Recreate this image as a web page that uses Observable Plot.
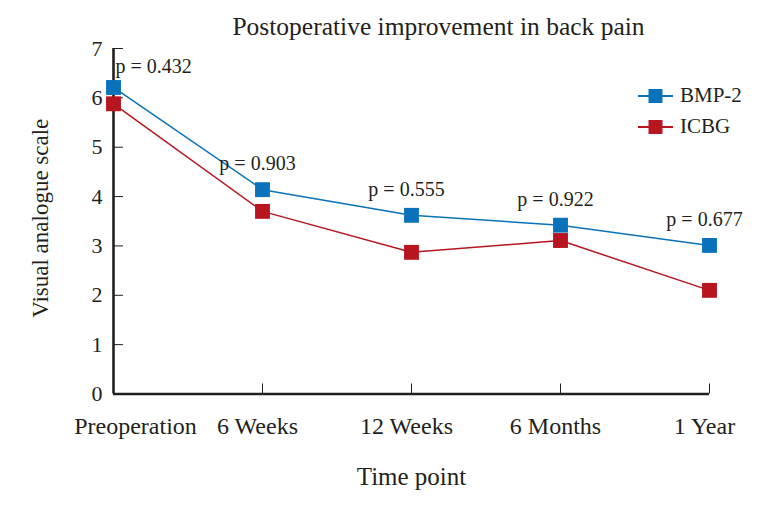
<!DOCTYPE html>
<html>
<head>
<meta charset="utf-8">
<script src="https://cdn.jsdelivr.net/npm/d3@7"></script>
<script src="https://cdn.jsdelivr.net/npm/@observablehq/plot@0.6"></script>
<style>
  html, body { margin: 0; padding: 0; background: #fff; }
  #wrap { position: relative; width: 772px; height: 508px; font-family: "Liberation Serif", serif; color: #231f20; }
  #legend { position: absolute; left: 638px; top: 80px; font-size: 21px; }
  .lg { display: flex; align-items: center; height: 31px; }
  .lg svg { margin-right: 7px; }
</style>
</head>
<body>
<div id="wrap"></div>
<script>
const title = "Postoperative improvement in back pain";
const categories = ["Preoperation", "6 Weeks", "12 Weeks", "6 Months", "1 Year"];
const seriesNames = ["BMP-2", "ICBG"];
const seriesColors = ["#0a72ba", "#b7151f"];
const bmp2 = [6.21, 4.14, 3.62, 3.42, 3.01];
const icbg = [5.88, 3.70, 2.87, 3.11, 2.10];
const pValues = ["0.432", "0.903", "0.555", "0.922", "0.677"];
const yTicks = [0, 1, 2, 3, 4, 5, 6, 7];
const xLabel = "Time point";
const yLabel = "Visual analogue scale";

const rows = [];
categories.forEach((c, i) => {
  rows.push({time: c, series: seriesNames[1], value: icbg[i]});
});
categories.forEach((c, i) => {
  rows.push({time: c, series: seriesNames[0], value: bmp2[i]});
});
const pRows = categories.map((c, i) => ({time: c, value: bmp2[i], p: "p = " + pValues[i]}));

const ink = "#231f20";
const chart = Plot.plot({
  width: 772,
  height: 508,
  marginLeft: 113,
  marginRight: 63,
  marginTop: 48,
  marginBottom: 114.5,
  style: {fontFamily: "Liberation Serif, serif", background: "white", color: ink, overflow: "visible"},
  x: {type: "point", domain: categories, padding: 0},
  y: {type: "linear", domain: [0, 7]},
  color: {domain: seriesNames, range: seriesColors},
  marks: [
    // axis lines
    Plot.ruleY([0], {stroke: ink, strokeWidth: 2.6}),
    Plot.ruleX([categories[0]], {stroke: ink, strokeWidth: 2.6}),
    // inward ticks
    Plot.ruleY(yTicks, {y: d => d, x1: () => categories[0], x2: () => categories[0], insetRight: -10, stroke: ink, strokeWidth: 1}),
    Plot.ruleX(categories.slice(1), {x: d => d, y1: () => 0, y2: () => 0, insetTop: -10, stroke: ink, strokeWidth: 1}),
    // tick labels
    Plot.axisY(yTicks, {tickSize: 0, tickPadding: 11, fontSize: 22, label: null, fill: ink}),
    Plot.axisX([categories[0]], {tickSize: 0, tickPadding: 23, fontSize: 24, label: null, dx: 22, fill: ink}),
    Plot.axisX(categories.slice(1), {tickSize: 0, tickPadding: 23, fontSize: 24, label: null, dx: -5, fill: ink}),
    // axis titles and chart title
    Plot.text([xLabel], {text: d => d, frameAnchor: "bottom", lineAnchor: "bottom", dy: 90.5, fontSize: 25, fill: ink}),
    Plot.text([yLabel], {text: d => d, frameAnchor: "left", textAnchor: "middle", rotate: -90, lineAnchor: "bottom", dx: -66, dy: -3, fontSize: 23, fill: ink}),
    Plot.text([title], {text: d => d, frameAnchor: "top", lineAnchor: "bottom", dy: -14, dx: 27, fontSize: 25.5, fill: ink}),
    // series
    Plot.line(rows, {x: "time", y: "value", stroke: "series", z: "series", strokeWidth: 1.5}),
    Plot.dot(rows, {x: "time", y: "value", fill: "series", symbol: "square", r: 8.4, stroke: "none"}),
    // p-values
    Plot.text(pRows.slice(0, 1), {x: "time", y: "value", text: "p", textAnchor: "start", dx: 2, dy: -21, fontSize: 20, fill: ink}),
    Plot.text(pRows.slice(1), {x: "time", y: "value", text: "p", dx: -5, dy: -26, fontSize: 20, fill: ink})
  ]
});
const wrap = document.getElementById("wrap");
wrap.appendChild(chart);

// legend
const legend = document.createElement("div");
legend.id = "legend";
seriesNames.forEach((name, i) => {
  const row = document.createElement("div");
  row.className = "lg";
  const ns = "http://www.w3.org/2000/svg";
  const s = document.createElementNS(ns, "svg");
  s.setAttribute("width", 35); s.setAttribute("height", 16);
  const l = document.createElementNS(ns, "line");
  l.setAttribute("x1", 0); l.setAttribute("x2", 35); l.setAttribute("y1", 8); l.setAttribute("y2", 8);
  l.setAttribute("stroke", seriesColors[i]); l.setAttribute("stroke-width", 2);
  const r = document.createElementNS(ns, "rect");
  r.setAttribute("x", 10.5); r.setAttribute("y", 1); r.setAttribute("width", 14); r.setAttribute("height", 14);
  r.setAttribute("fill", seriesColors[i]);
  s.appendChild(l); s.appendChild(r);
  const t = document.createElement("span");
  t.textContent = name;
  row.appendChild(s); row.appendChild(t);
  legend.appendChild(row);
});
wrap.appendChild(legend);
</script>
</body>
</html>
